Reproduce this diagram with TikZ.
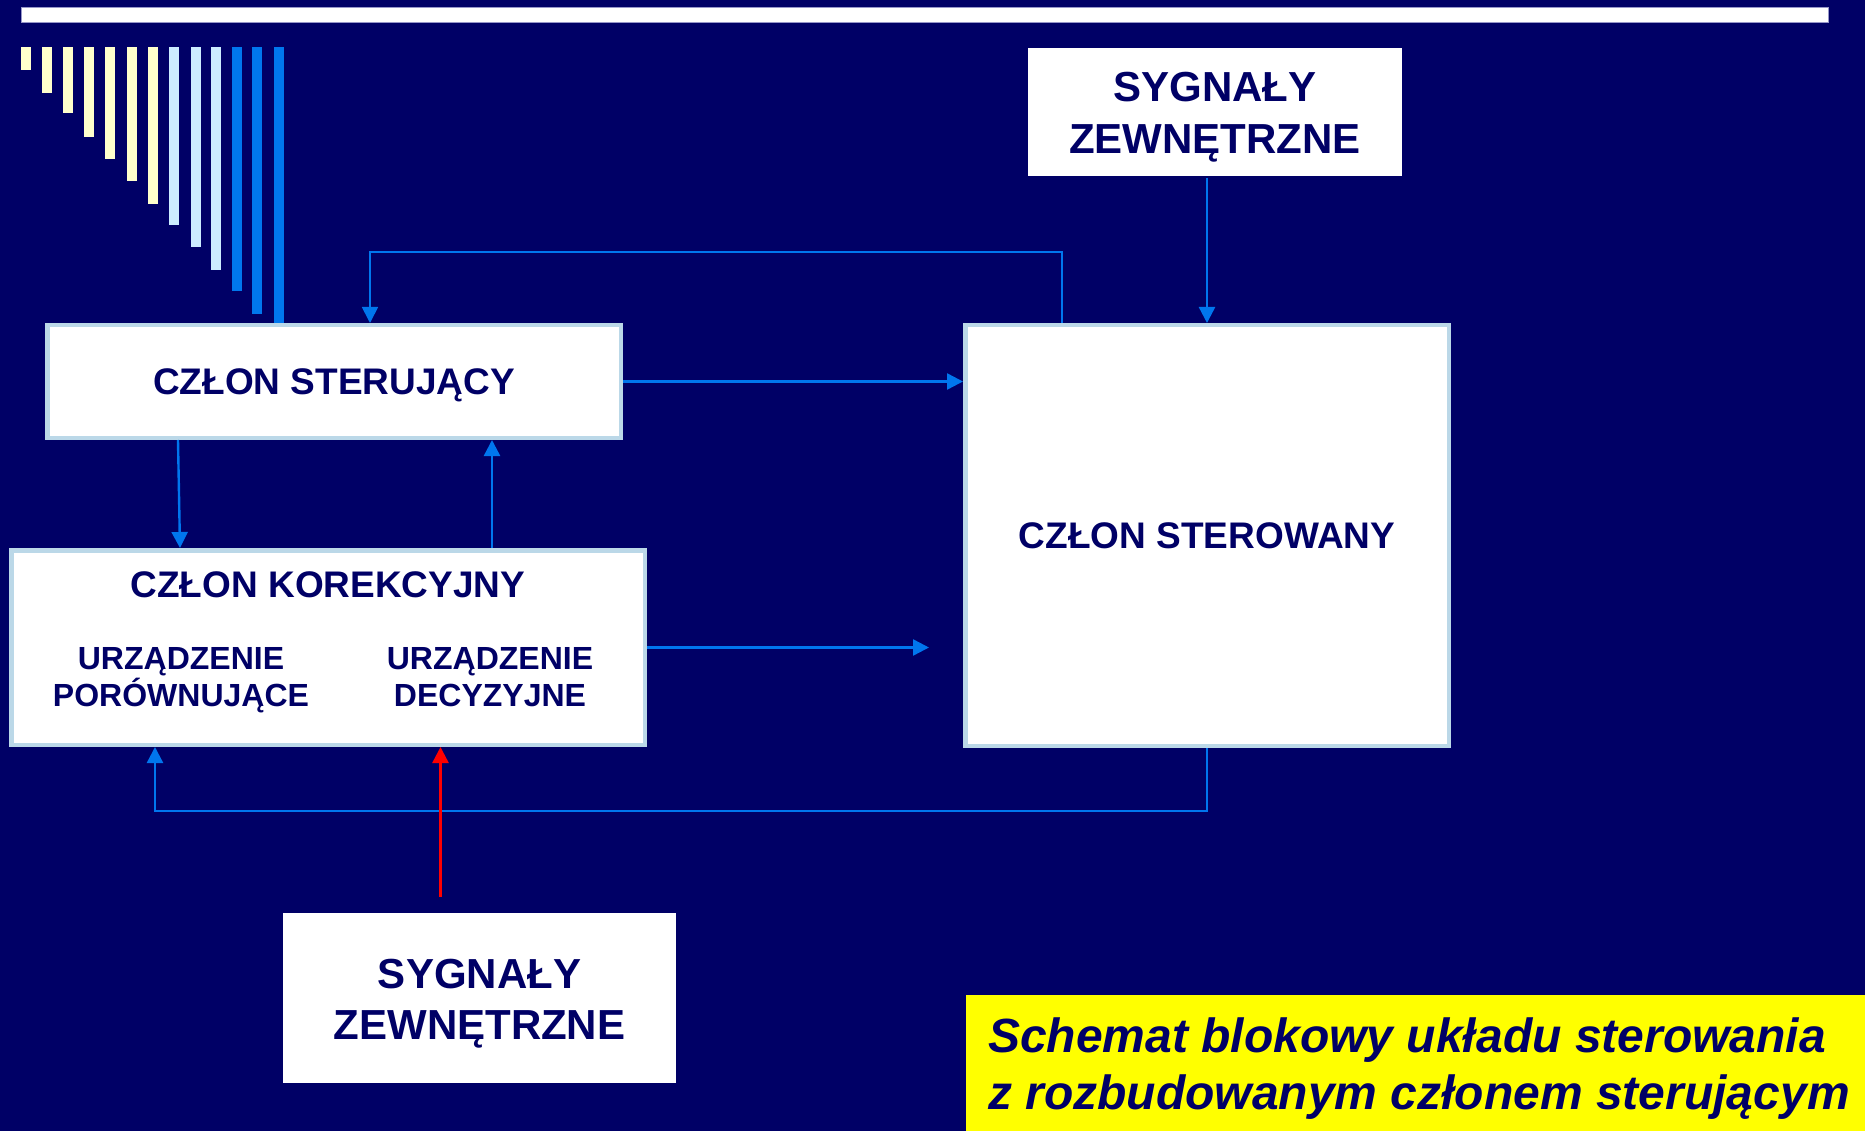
\documentclass[tikz,border=0pt]{standalone}
\usepackage{fontspec}
\setmainfont{Liberation Sans}
\usetikzlibrary{arrows.meta,calc}
\definecolor{bg}{RGB}{0,0,102}
\definecolor{navy}{RGB}{0,0,102}
\definecolor{bord}{RGB}{187,216,232}
\definecolor{lineblue}{RGB}{0,118,238}
\definecolor{barY}{RGB}{255,255,204}
\definecolor{barL}{RGB}{204,236,255}
\definecolor{barB}{RGB}{0,119,238}
\definecolor{yel}{RGB}{255,255,0}
\definecolor{redarr}{RGB}{255,0,0}
\definecolor{baredge}{RGB}{150,150,200}
\begin{document}
\begin{tikzpicture}[x=1pt,y=-1pt,
  box/.style={draw=bord, line width=4.5pt, fill=white, inner sep=0pt, text=navy,
    text height=26.5pt, text depth=0pt,
    font=\fontsize{37}{44}\selectfont\bfseries},
  sigbox/.style={fill=white, inner sep=0pt},
  sigtxt/.style={text=navy, inner sep=0pt, font=\fontsize{42}{52}\selectfont\bfseries},
  title/.style={text=navy, inner sep=0pt, font=\fontsize{37}{44}\selectfont\bfseries},
  lbl/.style={text=navy, inner sep=0pt, font=\fontsize{32}{37}\selectfont\bfseries},
  captxt/.style={text=navy, inner sep=0pt, font=\fontsize{48}{57}\selectfont\bfseries\itshape},
  conn/.style={draw=lineblue, line width=2.4pt, -{Triangle[length=16pt,width=16pt]}},
]
\fill[bg] (0,0) rectangle (1865,1131);
\useasboundingbox (0,0) rectangle (1865,1131);

% top bar
\filldraw[fill=white, draw=baredge, line width=1pt] (21,7.5) rectangle (1828,22.5);

% decorative bars
\foreach \x/\b/\c in {21/70/barY, 42/93/barY, 63/113/barY, 84/137/barY, 105/159/barY,
  127/181/barY, 148/204/barY, 169/225/barL, 191/247/barL, 211/270/barL,
  232/291/barB, 252/314/barB, 274/325/barB}
  \fill[\c] (\x,47) rectangle ({\x+9.5},\b);

% boxes
\node[box, minimum width=573.5pt, minimum height=112.5pt] (ster) at (334,381.5) {CZŁON STERUJĄCY};
\node[box, minimum width=633.5pt, minimum height=194.5pt] (kor) at (328,647.5) {};
\node[box, minimum width=483.5pt, minimum height=420.5pt] (sterowany) at (1207,535.5) {CZŁON STEROWANY};
\node[sigbox, minimum width=374pt, minimum height=128pt] (sygtop) at (1215,112) {};
\node[sigbox, minimum width=393pt, minimum height=170pt] (sygbot) at (479.5,998) {};

% signal texts
\node[sigtxt, anchor=base] (st1) at (1215,102) {SYGNAŁY};
\node[sigtxt, anchor=base] (st2) at (1215,154) {ZEWNĘTRZNE};
\node[sigtxt, anchor=base] (sb1) at (479.5,988) {SYGNAŁY};
\node[sigtxt, anchor=base] (sb2) at (479.5,1039) {ZEWNĘTRZNE};

% korekcyjny labels
\node[title, anchor=base] (kortitle) at (328,597) {CZŁON KOREKCYJNY};
\node[lbl, anchor=base] (ur1a) at (181,669) {URZĄDZENIE};
\node[lbl, anchor=base] (ur1b) at (181,706) {PORÓWNUJĄCE};
\node[lbl, anchor=base] (ur2a) at (490,669) {URZĄDZENIE};
\node[lbl, anchor=base] (ur2b) at (490,706) {DECYZYJNE};

% caption
\node[fill=yel, minimum width=899pt, minimum height=136pt, inner sep=0pt, anchor=north west] (cap) at (966,995) {};
\node[captxt, anchor=base west] (cap1) at (988,1052) {Schemat blokowy układu sterowania};
\node[captxt, anchor=base west] (cap2) at (988,1109) {z rozbudowanym członem sterującym};

% connectors
\draw[conn] (ster.east) -- (ster.east -| sterowany.west);

\coordinate (fbR) at (1062,252);
\coordinate (fbL) at (370,252);
\draw[conn, line width=1.8pt] (sterowany.north -| fbR) -- (fbR) -- (fbL) -- (fbL |- ster.north);

\draw[conn] ([yshift=-2pt]sygtop.south -| sterowany.north) -- (sterowany.north);

\draw[conn] ([xshift=-156pt]ster.south) -- ([xshift=-148pt]kor.north);
\coordinate (upS) at ([xshift=164pt]kor.north);
\draw[conn] (upS) -- (upS |- ster.south);

\coordinate (korEnd) at (929,647.5);
\draw[conn] (kor.east) -- (korEnd);

\coordinate (fb2) at (155,811);
\draw[conn] (sterowany.south) -- (sterowany.south |- fb2) -- (fb2) -- (fb2 |- kor.south);

\coordinate (redS) at ([xshift=-39pt,yshift=16pt]sygbot.north);
\draw[conn, draw=redarr] (redS) -- (redS |- kor.south);
\end{tikzpicture}
\end{document}
